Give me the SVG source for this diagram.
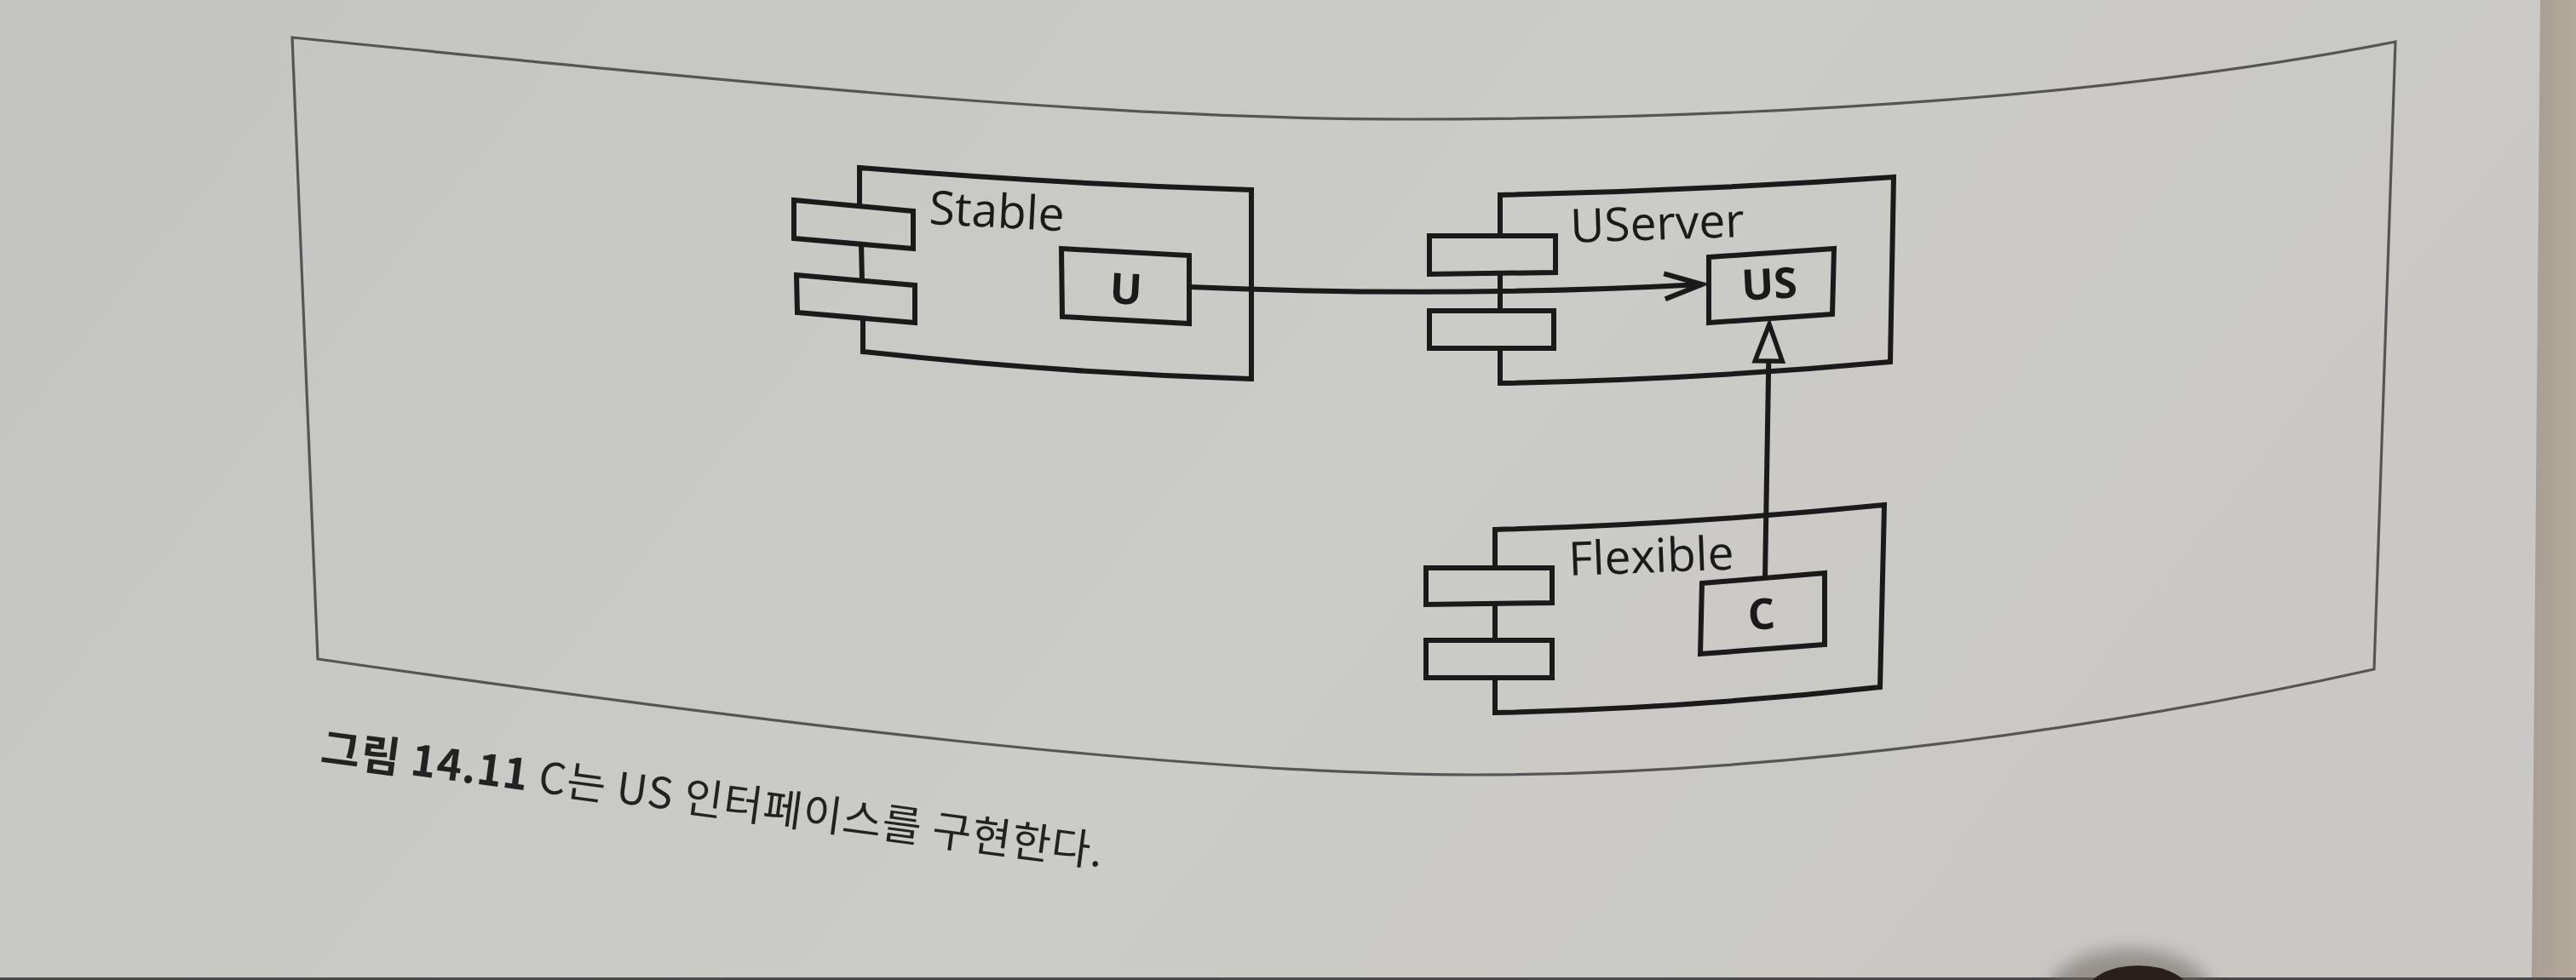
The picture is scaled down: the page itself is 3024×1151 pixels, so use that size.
<svg xmlns="http://www.w3.org/2000/svg" width="3024" height="1151" viewBox="0 0 3024 1151">
<defs>
<linearGradient id="page" x1="0" y1="0" x2="1" y2="0.3">
<stop offset="0" stop-color="#c4c4c2"/>
<stop offset="0.6" stop-color="#cbcbc8"/>
<stop offset="1" stop-color="#c9c8c4"/>
</linearGradient>
<linearGradient id="edge" x1="0" y1="0" x2="1" y2="0">
<stop offset="0" stop-color="#a89f92"/>
<stop offset="1" stop-color="#b3aa9c"/>
</linearGradient>
<filter id="soft" x="-50%" y="-50%" width="200%" height="200%">
<feGaussianBlur stdDeviation="10"/>
</filter>
<marker id="openArrow" viewBox="0 0 60 50" markerWidth="60" markerHeight="50" refX="46" refY="17" orient="auto" markerUnits="userSpaceOnUse" overflow="visible">
<path d="M2,2 L46,17 L2,32" fill="none" stroke="#1a1a1a" stroke-width="6"/>
</marker>
<marker id="hollowTri" viewBox="0 0 60 50" markerWidth="60" markerHeight="50" refX="46" refY="18" orient="auto" markerUnits="userSpaceOnUse" overflow="visible">
<path d="M3,2 L46,18 L3,34 Z" fill="#cbcbc8" stroke="#1a1a1a" stroke-width="5.5" stroke-linejoin="miter"/>
</marker>
</defs>
<style>
.ln{fill:none;stroke:#1a1a1a;stroke-width:6;stroke-linejoin:miter}
.frame{fill:none;stroke:#555555;stroke-width:3.2}
.name{font-family:"Open Sans","Noto Sans",sans-serif;font-size:55px;font-weight:500;fill:#1a1a1a}
.lab{font-family:"Open Sans","Noto Sans",sans-serif;font-size:50px;font-weight:700;fill:#1a1a1a;text-anchor:middle}
.cap{font-family:"Noto Sans CJK KR","Noto Sans",sans-serif;font-size:50px;letter-spacing:1px;fill:#222222}
</style>
<rect x="0" y="0" width="3024" height="1151" fill="url(#page)"/>
<polygon points="2982,0 3024,0 3024,1151 2972,1151" fill="url(#edge)"/>
<rect x="0" y="1148" width="3024" height="3" fill="#4a4a4a"/>
<ellipse cx="2500" cy="1165" rx="95" ry="50" fill="#6a625e" opacity="0.55" filter="url(#soft)"/>
<ellipse cx="2510" cy="1168" rx="62" ry="34" fill="#2a201b"/>

<g id="frame">
<path class="frame" d="M343,44 C900,100 1300,140 1650,140 C2100,140 2500,110 2812,49 L2787,786 C2500,850 2100,910 1731,910 C1400,910 900,850 373,774 Z"/>
</g>

<g id="stable">
<path class="ln" d="M1009,242 L1009,197 Q1240,216 1469,223 L1469,445 Q1240,438 1013,413 L1013,373"/>
<path class="ln" d="M1011,286 L1012,329"/>
<polygon class="ln" points="932,235 1072,248 1072,292 932,280"/>
<polygon class="ln" points="935,323 1074,335 1074,379 936,367"/>
<text class="name" x="1090" y="263" transform="rotate(3 1090 263)">Stable</text>
<g id="stable-u">
<polygon class="ln" points="1246,292 1396,300 1396,380 1247,372"/>
<text class="lab" x="1321" y="357" transform="rotate(3 1321 357)">U</text>
</g>
</g>

<g id="userver">
<path class="ln" d="M1761,277 L1761,229 Q1992,224 2223,208 L2219,425 Q1990,446 1761,450 L1761,409"/>
<path class="ln" d="M1761,321 L1761,365"/>
<polygon class="ln" points="1678,277 1826,277 1826,320 1678,322"/>
<polygon class="ln" points="1678,365 1824,365 1824,409 1678,409"/>
<text class="name" x="1844" y="285" transform="rotate(-2 1844 285)">UServer</text>
<g id="userver-us">
<polygon class="ln" points="2006,302 2153,292 2151,369 2006,379"/>
<text class="lab" x="2078" y="351" transform="rotate(-3 2078 351)">US</text>
</g>
</g>

<g id="flexible">
<path class="ln" d="M1755,667 L1755,622 Q1983,616 2212,593 L2207,807 Q1981,832 1755,837 L1755,796"/>
<path class="ln" d="M1755,709 L1755,752"/>
<polygon class="ln" points="1674,667 1822,667 1822,708 1674,710"/>
<polygon class="ln" points="1674,752 1822,752 1822,796 1674,796"/>
<text class="name" x="1842" y="676" transform="rotate(-2.2 1842 676)">Flexible</text>
<g id="flexible-c">
<polygon class="ln" points="1998,685 2142,673 2142,757 1996,768"/>
<text class="lab" x="2069" y="739" transform="rotate(-4 2069 739)">C</text>
</g>
</g>

<g id="connectors">
<path class="ln" d="M1396,337 Q1700,350 1998,334" marker-end="url(#openArrow)"/>
<path class="ln" d="M2072,679 L2077,381" marker-end="url(#hollowTri)"/>
</g>

<g id="caption">
<text class="cap" x="375" y="896" transform="rotate(7.6 375 896)"><tspan font-weight="700">그림 14.11</tspan> C는 US 인터페이스를 구현한다.</text>
</g>
</svg>
